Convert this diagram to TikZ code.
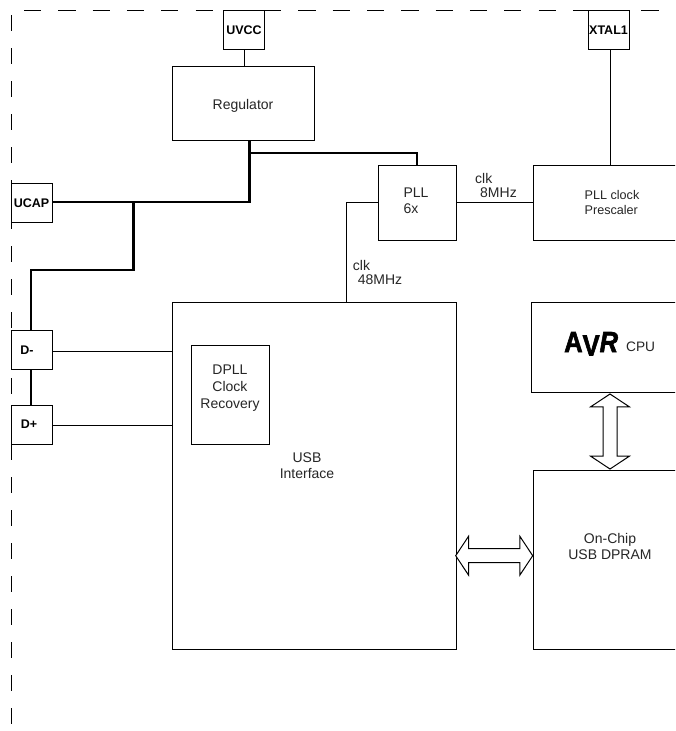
\documentclass[tikz,border=0pt]{standalone}
\usepackage{fontspec}
\setmainfont{Liberation Sans}
\newfontfamily\logofont[FakeBold=2.2]{Liberation Sans}
\usepackage{xcolor}
\usetikzlibrary{shapes.arrows}
\tikzset{
  block/.style={draw,line width=1pt,fill=white,inner sep=0pt},
  blocktext/.style={text=black!85,inner sep=0pt,align=center,font=\fontsize{14}{16.5}\selectfont},
  pin/.style={draw,line width=1pt,fill=white,inner sep=0pt,minimum width=41pt,minimum height=39pt,font=\fontsize{12.5}{14}\selectfont\bfseries},
  wire/.style={line width=1pt},
  powerwire/.style={line width=2.2pt,line join=miter},
  busarrow/.style={draw,line width=1pt,fill=white,shape=double arrow,minimum width=38pt,double arrow head extend=12.5pt,double arrow tip angle=113},
  clklabel/.style={text=black!85,inner sep=0pt,align=left,font=\fontsize{14}{14.5}\selectfont}
}
\begin{document}
\begin{tikzpicture}[x=1pt,y=-1pt]
\useasboundingbox (0,0) rectangle (675,731);
\clip (0,0) rectangle (675,731);
% Package outline
\coordinate (topstart) at (24,10);
\coordinate (topend) at (659,10);
\coordinate (leftstart) at (11,15);
\coordinate (leftend) at (11,725);
\draw[line width=1pt,dash pattern=on 17.2pt off 17.1pt] (topstart) -- (topend);
\draw[line width=1pt,dash pattern=on 15.5pt off 17.5pt] (leftstart) -- (leftend);
% Blocks
\node[block,minimum width=142pt,minimum height=74pt] (regulator) at (243,103) {};
\node[blocktext] (regulatortext) at (243,106) {Regulator};
\node[block,minimum width=78pt,minimum height=75pt] (pll) at (417,202.5) {};
\node[blocktext,align=left,font=\fontsize{14}{16.3}\selectfont] (plltext) at (416,200.5) {PLL\\6x};
\node[block,minimum width=158pt,minimum height=75pt] (prescaler) at (612,202.5) {};
\node[blocktext,align=left,font=\fontsize{12.6}{15}\selectfont] (prescalertext) at (612,202.5) {PLL clock\\Prescaler};
\node[block,minimum width=284pt,minimum height=347pt] (usb) at (314,475.5) {};
\node[blocktext,font=\fontsize{14}{16}\selectfont] (usbtext) at (307,466) {USB\\Interface};
\node[block,minimum width=77.5pt,minimum height=99pt] (dpll) at (230.25,394.5) {};
\node[blocktext,font=\fontsize{14}{16.7}\selectfont] (dplltext) at (230,388) {DPLL\\Clock\\Recovery};
\node[block,minimum width=158pt,minimum height=90pt] (cpu) at (610,347) {};
\node[inner sep=0pt,anchor=base west,font=\fontsize{29}{29}\selectfont\logofont\bfseries] (avrlogo) at (564,352) {\scalebox{0.88}[1]{A\raisebox{-3.5pt}{\logofont\bfseries V}\textit{R}}};
\node[blocktext,font=\fontsize{13.7}{16}\selectfont,anchor=base west] (cputext) at (626,351) {CPU};
\node[block,minimum width=154pt,minimum height=179pt] (dpram) at (610,559.5) {};
\node[blocktext,font=\fontsize{14}{16.7}\selectfont] (dpramtext) at (610,546.5) {On-Chip\\USB DPRAM};
% Pins
\node[pin] (uvcc) at (244,29.7) {UVCC};
\node[pin] (xtal) at (608.5,29.7) {XTAL1};
\node[pin] (ucap) at (31.5,203.4) {UCAP};
\node[pin] (dminus) at (31.5,350) {D-\hspace*{9pt}};
\node[pin] (dplus) at (31.5,424.5) {D+\hspace*{5pt}};
% Thin connectors
\coordinate (xtalwire) at (610,100);
\draw[wire] (uvcc) -- (uvcc |- regulator.north);
\draw[wire] (xtal.south -| xtalwire) -- (prescaler.north -| xtalwire);
\draw[wire] (pll.east) -- (prescaler.west);
\coordinate (usbclk) at (346,202.5);
\draw[wire] (pll.west) -- (usbclk) -- (usbclk |- usb.north);
\coordinate (dminusin) at (52,351);
\coordinate (dplusin) at (52,425.5);
\draw[wire] (dminusin) -- (dminusin -| usb.west);
\draw[wire] (dplusin) -- (dplusin -| usb.west);
% Regulator output
\coordinate (regout) at (249.5,153);
\coordinate (capnode) at (249.5,202);
\coordinate (dnode) at (133.5,202);
\coordinate (dstep) at (133.5,270);
\coordinate (dbus) at (30.7,270);
\draw[powerwire] (regulator.south -| regout) -- (capnode) -- (capnode -| ucap.east);
\draw[powerwire] (regout) -- (regout -| pll.north) -- (pll.north);
\draw[powerwire] (dnode) -- (dstep) -- (dbus) -- (dbus |- dminus.north);
\draw[powerwire] (dbus |- dminus.south) -- (dbus |- dplus.north);
% Clock labels
\node[clklabel,anchor=north west] (clkeight) at (475,173) {clk\\\hspace*{5pt}8MHz};
\node[clklabel,anchor=north west] (clkfortyeight) at (352.7,260) {clk\\\hspace*{5pt}48MHz};
% Bus arrows
\node[busarrow,inner xsep=6.5pt,inner ysep=0pt,minimum height=75pt,shape border rotate=90] (cpubus) at (610,431.5) {};
\node[busarrow,inner xsep=0pt,inner ysep=6.5pt,minimum height=77pt] (usbbus) at (494.2,555.7) {};
\end{tikzpicture}
\end{document}
